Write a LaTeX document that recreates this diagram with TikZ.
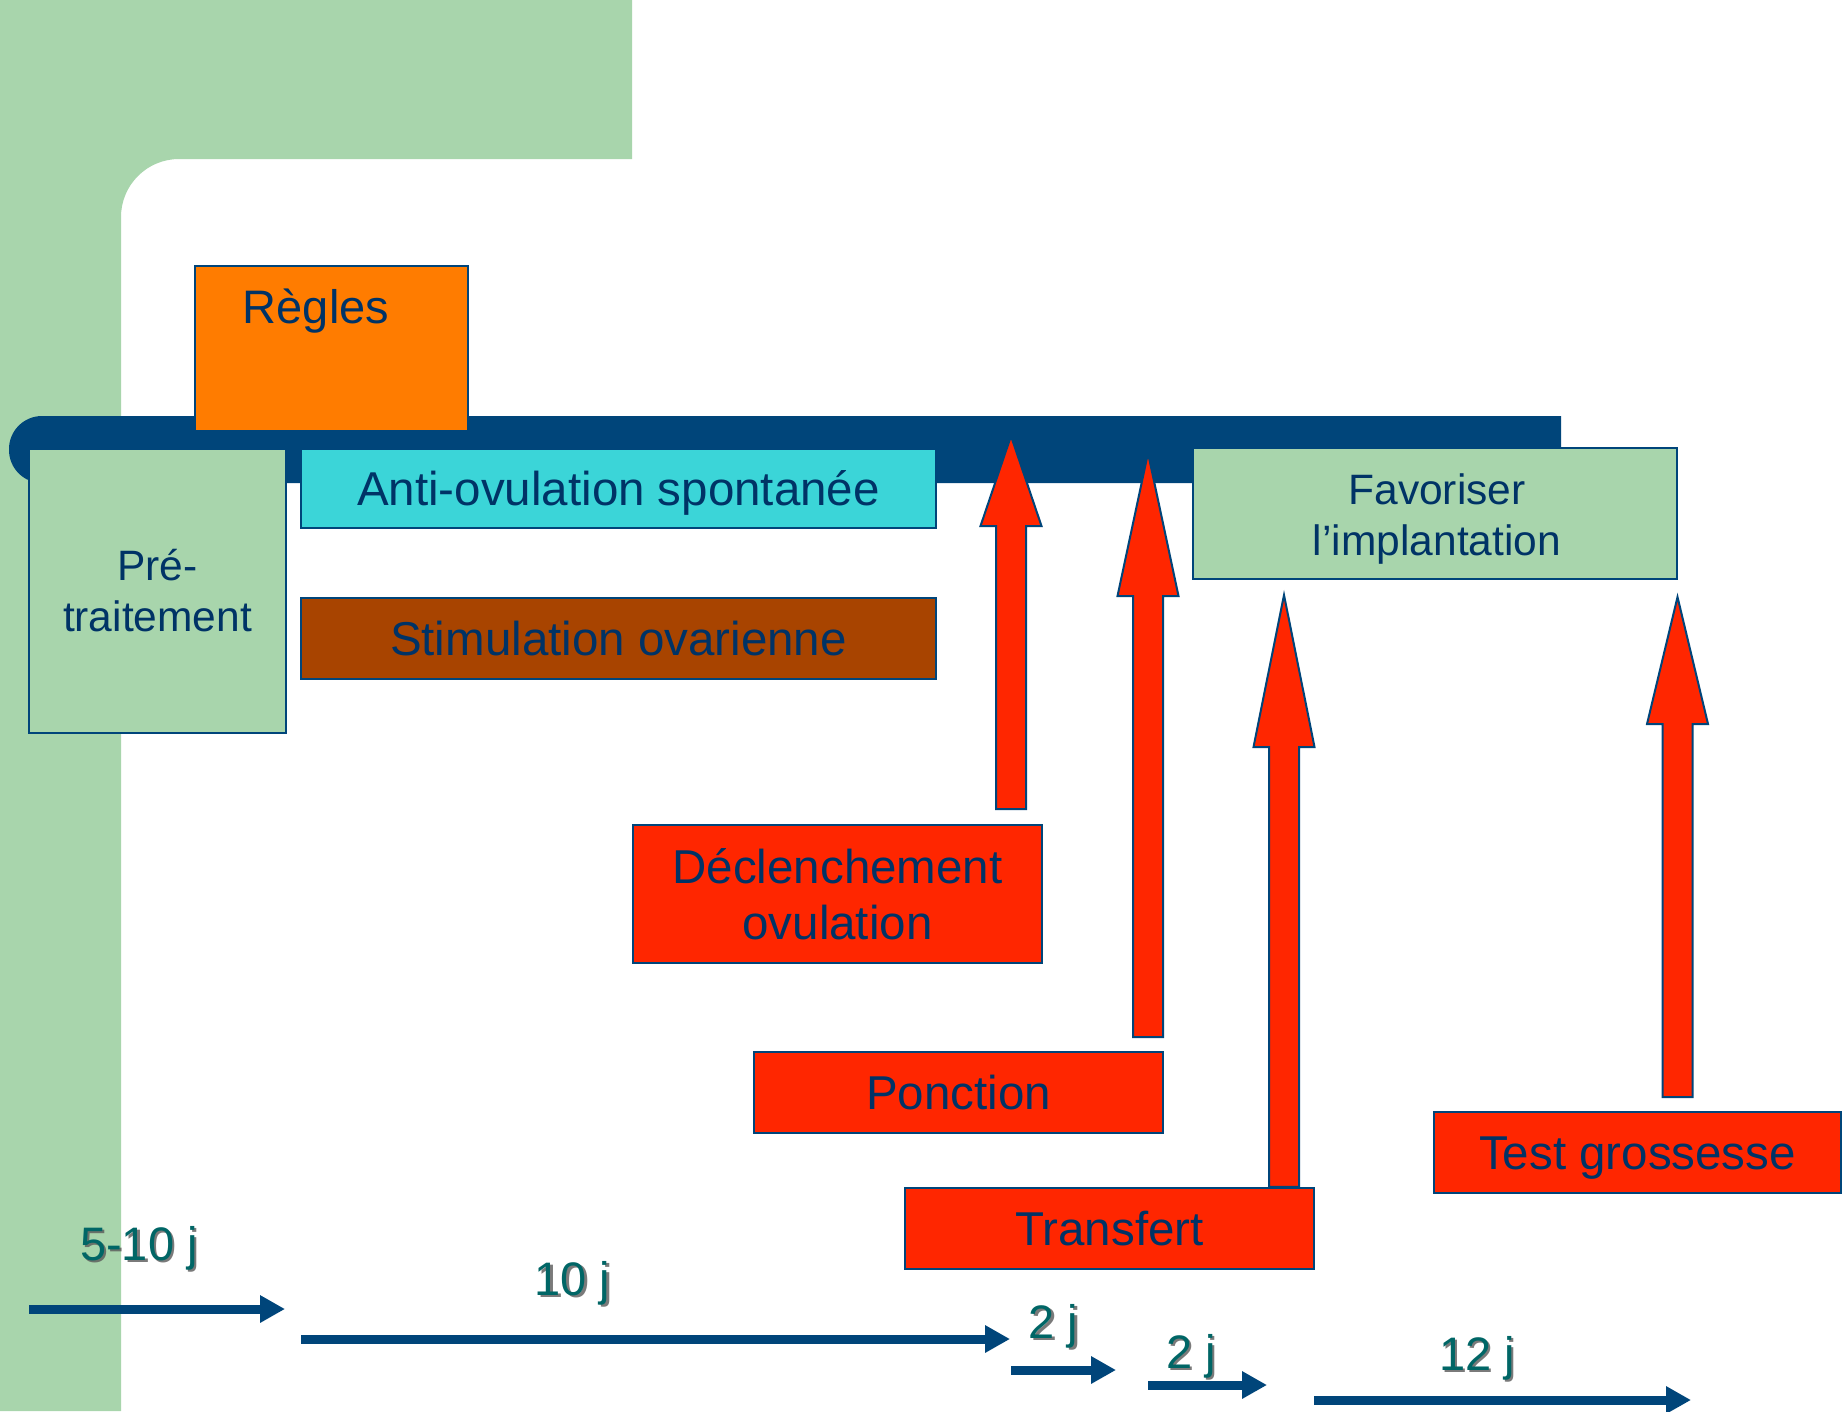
\documentclass[tikz,border=0pt]{standalone}
\usepackage{fontspec}
\setmainfont{Liberation Sans}
\usetikzlibrary{arrows.meta,calc}
\definecolor{bggreen}{RGB}{168,213,172}
\definecolor{barblue}{RGB}{0,69,122}
\definecolor{txtblue}{RGB}{0,51,102}
\definecolor{orangebox}{RGB}{255,124,0}
\definecolor{cyanbox}{RGB}{59,213,216}
\definecolor{brownbox}{RGB}{168,68,0}
\definecolor{redbox}{RGB}{255,38,0}
\definecolor{teallbl}{RGB}{0,102,102}
\newcommand{\blkarrow}[3]{% #1 base coord, #2 tip coord, #3 head length
  \filldraw[redarr] let \p1=(#1), \p2=(#2) in
    (\x1-15pt,\y1) -- (\x1-15pt,\y2-#3pt) -- (\x1-30.5pt,\y2-#3pt) -- (\x2,\y2)
    -- (\x1+30.5pt,\y2-#3pt) -- (\x1+15pt,\y2-#3pt) -- (\x1+15pt,\y1) -- cycle;}
\begin{document}
\begin{tikzpicture}[x=1pt,y=-1pt,
  box/.style={draw=barblue, line width=2.5pt, inner sep=0pt, text=txtblue,
    font=\fontsize{47.5}{56}\selectfont, align=center},
  oneline/.style={text height=34pt, text depth=0pt},
  smallfont/.style={font=\fontsize{42.5}{51}\selectfont},
  redarr/.style={fill=redbox, draw=barblue, line width=2pt, line join=miter},
  timearr/.style={draw=barblue, line width=9pt, -{Triangle[length=25pt,width=26pt]}},
  dur/.style={anchor=base, inner sep=0pt, text=teallbl, font=\fontsize{47}{56}\selectfont},
  durshadow/.style={anchor=base, inner sep=0pt, text=black!65, opacity=0.8, font=\fontsize{47}{56}\selectfont}
]
\useasboundingbox (0,0) rectangle (1843,1411);
\fill[white] (0,0) rectangle (1843,1411);
% background green L-shape
\fill[bggreen] (0,0) -- (632,0) -- (632,159) -- (400,159) [rounded corners=58pt] -- (121,159) -- (121,800) [sharp corners] -- (121,1411) -- (0,1411) -- cycle;
% timeline bar
\fill[barblue] (1561,416) -- (800,416) [rounded corners=33pt] -- (9,416) -- (9,483) -- (800,483) [sharp corners] -- (1561,483) -- cycle;

% boxes
\node[box, fill=orangebox, minimum width=273pt, minimum height=165pt] (regles) at (331.5,348.5) {};
\node[anchor=base, inner sep=0pt, text=txtblue, font=\fontsize{47}{56}\selectfont] (reglesT) at (316,323) {Règles};
\node[box, smallfont, fill=bggreen, minimum width=257pt, minimum height=284pt] (pre) at (157.5,591) {Pré-\\traitement};
\node[box, oneline, fill=cyanbox, minimum width=635pt, minimum height=79pt] (anti) at (618.5,488.5) {Anti-ovulation spontanée};
\node[box, oneline, fill=brownbox, minimum width=635pt, minimum height=81pt] (stim) at (618.5,638.5) {Stimulation ovarienne};
\node[box, fill=bggreen, minimum width=484pt, minimum height=131pt] (fav) at (1435,513.5) {};
\node[smallfont, text=txtblue, align=center, inner sep=0pt] (favT) at ($(fav.center)+(2,5.5)$) {Favoriser\\l’implantation};
\node[box, fill=redbox, minimum width=409pt, minimum height=138pt] (decl) at (837.5,894) {Déclenchement\\ovulation};
\node[box, oneline, fill=redbox, minimum width=409pt, minimum height=81pt] (ponc) at (958.5,1092.5) {Ponction};
\node[box, oneline, fill=redbox, minimum width=409pt, minimum height=81pt] (transf) at (1109.5,1228.5) {Transfert};
\node[box, oneline, fill=redbox, minimum width=407pt, minimum height=81pt] (test) at (1637.5,1152.5) {Test grossesse};

% block arrows
\coordinate (a1b) at (1011,809);  \coordinate (a1t) at (1011,436);
\coordinate (a2b) at (1148,1037); \coordinate (a2t) at (1148,453);
\coordinate (a3b) at ($(transf.north)+(174.5,0)$); \coordinate (a3t) at (1284,595);
\coordinate (a4b) at (1677.5,1097); \coordinate (a4t) at (1677.5,597);
\blkarrow{a1b}{a1t}{90}
\blkarrow{a2b}{a2t}{143}
\blkarrow{a3b}{a3t}{152}
\blkarrow{a4b}{a4t}{127}

% time arrows
\coordinate (t1s) at (29,1309);   \coordinate (t1e) at (285,1309);
\coordinate (t2s) at (301,1339);  \coordinate (t2e) at (1010,1339);
\coordinate (t3s) at (1011,1370); \coordinate (t3e) at (1116,1370);
\coordinate (t4s) at (1148,1385); \coordinate (t4e) at (1267,1385);
\coordinate (t5s) at (1314,1400); \coordinate (t5e) at (1691,1400);
\draw[timearr] (t1s) -- (t1e);
\draw[timearr] (t2s) -- (t2e);
\draw[timearr] (t3s) -- (t3e);
\draw[timearr] (t4s) -- (t4e);
\draw[timearr] (t5s) -- (t5e);

% duration labels
\node[durshadow] (l1s) at (141.5,1262.5) {5-10 j};
\node[dur] (l1) at (139,1260) {5-10 j};
\node[durshadow] (l2s) at (575,1297.5) {10 j};
\node[dur] (l2) at (572.5,1295) {10 j};
\node[durshadow] (l3s) at (1056,1340.5) {2 j};
\node[dur] (l3) at (1053.5,1338) {2 j};
\node[durshadow] (l4s) at (1193.5,1370.5) {2 j};
\node[dur] (l4) at (1191,1368) {2 j};
\node[durshadow] (l5s) at (1479.5,1372.5) {12 j};
\node[dur] (l5) at (1477,1370) {12 j};
\end{tikzpicture}
\end{document}
